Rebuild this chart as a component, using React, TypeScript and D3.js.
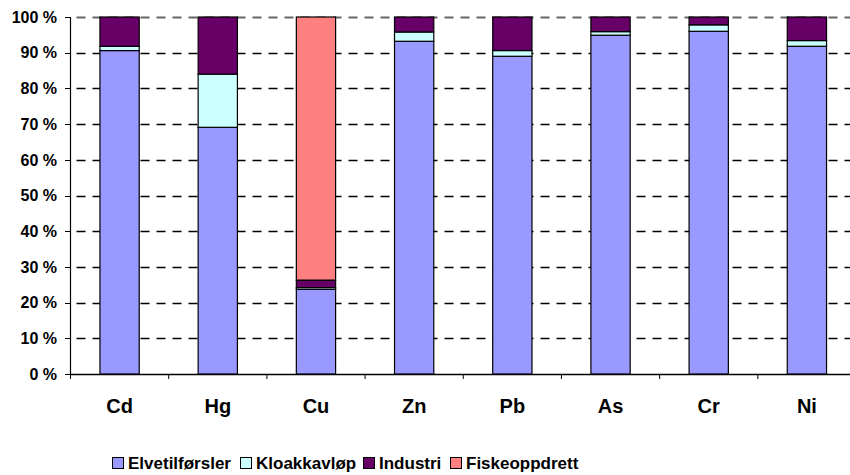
import React from "react";
import * as d3 from "d3";

const categories = ["Cd", "Hg", "Cu", "Zn", "Pb", "As", "Cr", "Ni"];
const seriesNames = ["Elvetilførsler", "Kloakkavløp", "Industri", "Fiskeoppdrett"];
const elvetilforsler = [90.6, 69.1, 23.7, 93.2, 89.0, 94.9, 96.0, 91.8];
const kloakkavlop = [1.2, 14.9, 0.5, 2.6, 1.6, 1.0, 1.8, 1.6];
const industri = [8.2, 16.0, 2.1, 4.2, 9.4, 4.1, 2.2, 6.6];
const fiskeoppdrett = [0, 0, 73.7, 0, 0, 0, 0, 0];
const colors = ["#9999FF", "#CCFFFF", "#660066", "#FF8080"];
const yTicks = [0, 10, 20, 30, 40, 50, 60, 70, 80, 90, 100];

const W = 850;
const H = 475;
const left = 70.5;
const top = 17;
const bottom = 374;
const right = 856;

export default function App() {
  const x = d3
    .scaleBand<string>()
    .domain(categories)
    .range([left, right])
    .paddingInner(0.6)
    .paddingOuter(0.3);
  const y = d3.scaleLinear().domain([0, 100]).range([bottom, top]);

  const rows = categories.map((c, i) => ({
    cat: c,
    s0: elvetilforsler[i],
    s1: kloakkavlop[i],
    s2: industri[i],
    s3: fiskeoppdrett[i],
  }));
  const stack = d3.stack<any>().keys(["s0", "s1", "s2", "s3"]);
  const layers = stack(rows);

  const step = x.step();
  const boundaries = d3.range(categories.length + 1).map((i) => left + i * step);

  const legendX = [112, 240, 363, 450];
  const font = "Arial, 'Liberation Sans', sans-serif";

  return (
    <svg width={W} height={H} style={{ position: "absolute", left: 0, top: 0 }}>
      <rect width={W} height={H} fill="#fff" />
      {yTicks.map((t) => (
        <line
          key={"g" + t}
          x1={left}
          x2={right}
          y1={Math.round(y(t)) + 0.5}
          y2={Math.round(y(t)) + 0.5}
          stroke={t === 100 ? "#666" : "#000"}
          strokeWidth={t === 100 ? 1.8 : 1.3}
          strokeDasharray={t === 0 ? undefined : "9,7"}
          strokeDashoffset={-6}
        />
      ))}
      {layers.map((layer, li) =>
        layer.map((d, i) => {
          const h = y(d[0]) - y(d[1]);
          if (h <= 0) return null;
          return (
            <rect
              key={li + "-" + i}
              x={x(categories[i])!}
              y={y(d[1])}
              width={x.bandwidth()}
              height={h}
              fill={colors[li]}
              stroke="#000"
              strokeWidth={1.2}
            />
          );
        })
      )}
      <line x1={left} x2={left} y1={top} y2={bottom} stroke="#000" strokeWidth={1.2} />
      <line x1={left} x2={right} y1={bottom + 0.5} y2={bottom + 0.5} stroke="#000" strokeWidth={1.2} />
      {yTicks.map((t) => (
        <g key={"t" + t}>
          <line x1={65} x2={left} y1={Math.round(y(t)) + 0.5} y2={Math.round(y(t)) + 0.5} stroke="#000" />
          <text
            x={57}
            y={y(t)}
            dy="0.36em"
            textAnchor="end"
            fontFamily={font}
            fontWeight="bold"
            fontSize={16}
            fill="#000"
          >
            {t + " %"}
          </text>
        </g>
      ))}
      {boundaries.map((bx, i) => (
        <line key={"b" + i} x1={bx} x2={bx} y1={bottom} y2={bottom + 5} stroke="#000" />
      ))}
      {categories.map((c) => (
        <text
          key={"c" + c}
          x={x(c)! + x.bandwidth() / 2}
          y={413}
          textAnchor="middle"
          fontFamily={font}
          fontWeight="bold"
          fontSize={20}
          fill="#000"
        >
          {c}
        </text>
      ))}
      {seriesNames.map((s, i) => (
        <g key={"l" + s}>
          <rect x={legendX[i] + 0.5} y={457.5} width={11} height={11} fill={colors[i]} stroke="#000" />
          <text
            x={legendX[i] + 16}
            y={468.5}
            fontFamily={font}
            fontWeight="bold"
            fontSize={17}
            fill="#000"
          >
            {s}
          </text>
        </g>
      ))}
    </svg>
  );
}
